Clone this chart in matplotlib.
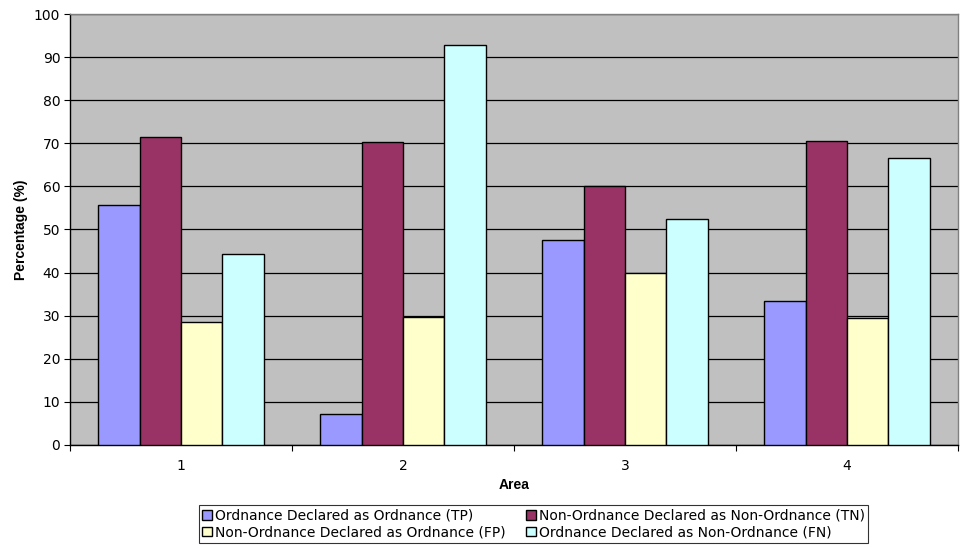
import matplotlib
matplotlib.use("Agg")
import matplotlib.pyplot as plt
import numpy as np

plt.rcParams['font.family'] = ['DejaVu Sans']

areas = ["1", "2", "3", "4"]
series_names = [
    "Ordnance Declared as Ordnance (TP)",
    "Non-Ordnance Declared as Non-Ordnance (TN)",
    "Non-Ordnance Declared as Ordnance (FP)",
    "Ordnance Declared as Non-Ordnance (FN)",
]
tp = [55.6, 7.1, 47.6, 33.3]
tn = [71.4, 70.4, 60.0, 70.5]
fp = [28.6, 29.6, 40.0, 29.5]
fn = [44.4, 92.9, 52.4, 66.7]
colors = ["#9999FF", "#993366", "#FFFFCC", "#CCFFFF"]

fig = plt.figure(figsize=(9.61, 5.46), dpi=100)
ax = fig.add_axes([70/961, 1-445/546, (958-70)/961, (445-14)/546])
ax.set_facecolor("#C0C0C0")

x = np.arange(len(areas))
w = 0.186
handles = []
for i, (vals, c, name) in enumerate(zip([tp, tn, fp, fn], colors, series_names)):
    h = ax.bar(x + (i - 1.5) * w, vals, w, color=c, edgecolor="black", linewidth=1.0,
               label=name, zorder=3)
    handles.append(h)

ax.set_xlim(-0.5, len(areas) - 0.5)
ax.set_ylim(0, 100)
ax.set_yticks(np.arange(0, 101, 10))
ax.yaxis.grid(True, color="black", linewidth=0.9, zorder=1)
ax.set_axisbelow(True)

ax.set_xticks(x)
ax.set_xticklabels(areas)
ax.set_xticks(np.arange(-0.5, len(areas), 1.0), minor=True)
ax.tick_params(axis="x", which="major", length=0, pad=10, labelsize=10)
ax.tick_params(axis="x", which="minor", length=4, width=0.8, direction="out")
ax.tick_params(axis="y", length=4, width=0.8, direction="out", labelsize=10, pad=3)

for s in ["top", "right"]:
    ax.spines[s].set_color("#808080")
    ax.spines[s].set_linewidth(1.0)
for s in ["left", "bottom"]:
    ax.spines[s].set_color("black")
    ax.spines[s].set_linewidth(1.0)

ax.set_xlabel("Area", fontsize=10, fontweight="bold", labelpad=4,
              family=["Liberation Sans", "DejaVu Sans"])
ax.set_ylabel("Percentage (%)", fontsize=10, fontweight="bold", labelpad=4,
              family=["Liberation Sans", "DejaVu Sans"])

# row-major order like the reference: TP, TN / FP, FN
order = [0, 2, 1, 3]
leg = fig.legend(handles=[handles[k] for k in order],
                 labels=[series_names[k] for k in order], loc="center",
                 bbox_to_anchor=(533.5/961, 1-524/546), ncol=2, fontsize=10,
                 frameon=True, fancybox=False, edgecolor="black",
                 handlelength=0.7, handleheight=0.7, handletextpad=0.2,
                 columnspacing=1.5, labelspacing=0.2, borderpad=0.25,
                 borderaxespad=0)
leg.get_frame().set_linewidth(0.8)

fig.savefig("out.png", dpi=100)
